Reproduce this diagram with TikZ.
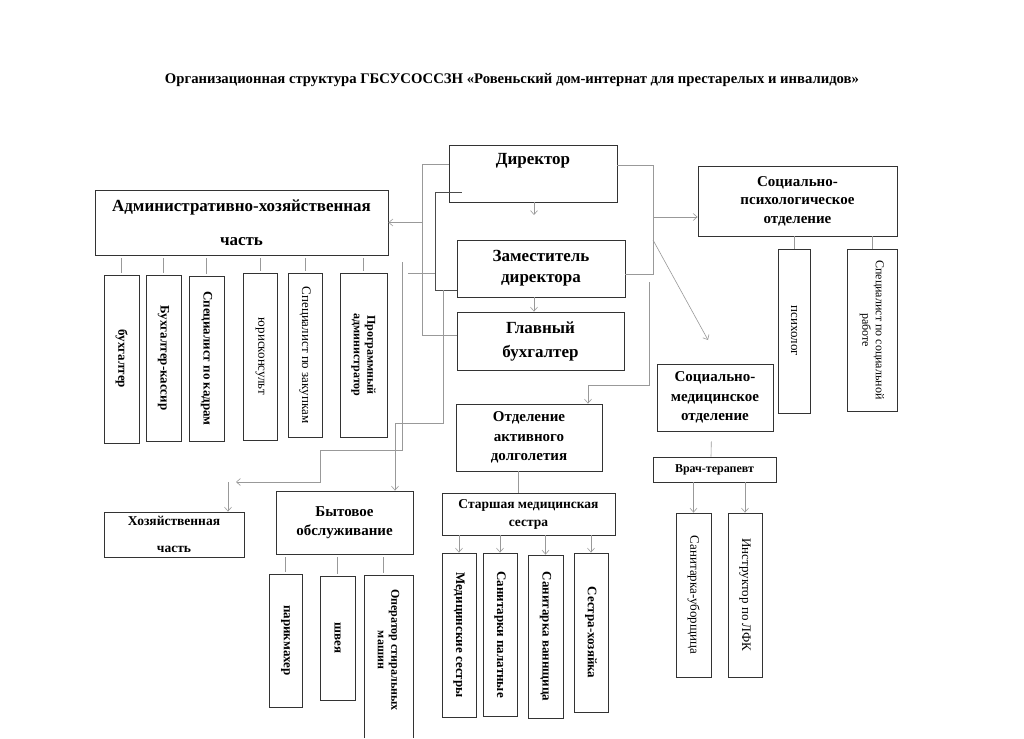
\documentclass[tikz,border=0pt]{standalone}
\usepackage{fontspec}
\setmainfont{Liberation Serif}
\usetikzlibrary{arrows.meta}

\tikzset{
  box/.style={draw=black!80, line width=0.8pt, align=center, inner sep=1pt},
  vtext/.style={rotate=-90, align=center, inner sep=1pt, font=\bfseries\fontsize{13}{14}\selectfont},
  vbox/.style={vtext, draw=black!80, line width=0.8pt},
  vthin/.style={font=\fontsize{13}{14}\selectfont},
  vsmall/.style={font=\bfseries\fontsize{12}{13.5}\selectfont},
  big/.style={font=\bfseries\fontsize{17}{21}\selectfont},
  mid/.style={font=\bfseries\fontsize{15}{19.5}\selectfont},
  small/.style={font=\bfseries\fontsize{13.5}{18}\selectfont},
  link/.style={draw=black!40, line width=0.6pt},
  darklink/.style={draw=black!70, line width=0.9pt}
}

\begin{document}
\begin{tikzpicture}[x=1pt, y=-1pt, >={Straight Barb[length=4pt,width=7pt]}]
\useasboundingbox[fill=white] (0,0) rectangle (1024,738);

\node[font=\bfseries\fontsize{14.7}{18}\selectfont] (title) at (512,80)
  {Организационная структура ГБСУСОССЗН «Ровеньский дом-интернат для престарелых и инвалидов»};

%Management
\node[box, big, minimum width=168pt, minimum height=57pt, text depth=30pt] (dir) at (533,173.5) {Директор};
\node[box, big, minimum width=168pt, minimum height=57pt] (zam) at (541,268.5) {Заместитель\\директора};
\node[box, font=\bfseries\fontsize{17}{24}\selectfont, minimum width=167pt, minimum height=58pt] (glav) at (540.5,341) {Главный\\бухгалтер};

%Departments
\node[box, big, minimum width=293pt, minimum height=65pt] (adm) at (241.5,222.5) {Административно-хозяйственная\\[13pt]часть};
\node[box, font=\bfseries\fontsize{15}{18.5}\selectfont, minimum width=199pt, minimum height=70pt] (psy) at (797.5,201) {Социально-\\психологическое\\отделение};
\node[box, mid, minimum width=116pt, minimum height=67pt] (med) at (715,397.5) {Социально-\\медицинское\\отделение};
\node[box, mid, minimum width=146pt, minimum height=67pt] (akt) at (529,437.5) {Отделение\\активного\\долголетия};
\node[box, font=\bfseries\fontsize{12}{14}\selectfont, minimum width=123pt, minimum height=25pt] (vrach) at (714.5,469.5) {Врач-терапевт};
\node[box, small, minimum width=173pt, minimum height=42pt] (sen) at (528.5,514) {Старшая медицинская\\сестра};
\node[box, small, minimum width=140pt, minimum height=45pt] (khoz) at (174,534.5) {Хозяйственная\\[9pt]часть};
\node[box, mid, minimum width=137pt, minimum height=63pt] (byt) at (344.5,522.5) {Бытовое\\обслуживание};

%Admin staff
\node[vbox, minimum width=168pt, minimum height=35pt] (b1) at (121.5,359) {бухгалтер};
\node[vbox, minimum width=166pt, minimum height=35pt] (b2) at (163.5,358) {Бухгалтер-кассир};
\node[vbox, minimum width=165pt, minimum height=35pt] (b3) at (206.5,358.5) {Специалист по кадрам};
\node[vbox, vthin, minimum width=167pt, minimum height=34pt] (b4) at (260,356.5) {юрисконсульт};
\node[vbox, vthin, minimum width=164pt, minimum height=34pt] (b5) at (305,355) {Специалист по закупкам};
\node[vbox, vsmall, minimum width=164pt, minimum height=47pt] (b6) at (363.5,355) {Программный\\администратор};

%Psychology staff
\node[vbox, vthin, minimum width=164pt, minimum height=32pt] (p1) at (794,331) {психолог};
\node[vbox, font=\fontsize{12}{13.5}\selectfont, minimum width=162pt, minimum height=50pt] (p2) at (872,330) {Специалист по социальной\\работе};

%Medical staff
\node[vbox, vthin, minimum width=164pt, minimum height=35pt] (m1) at (693.5,595) {Санитарка-уборщица};
\node[vbox, vthin, minimum width=164pt, minimum height=34pt] (m2) at (745,595) {Инструктор по ЛФК};

%Nurses
\node[vbox, minimum width=164pt, minimum height=34pt] (n1) at (459,635) {Медицинские сестры};
\node[vbox, minimum width=163pt, minimum height=34pt] (n2) at (500,634.5) {Санитарки палатные};
\node[vbox, minimum width=163pt, minimum height=35pt] (n3) at (545.5,636.5) {Санитарка ваннщица};
\node[vbox, minimum width=159pt, minimum height=34pt] (n4) at (591,632.5) {Сестра-хозяйка};

%Household staff
\node[vbox, minimum width=133pt, minimum height=33pt] (h1) at (285.5,640.5) {парикмахер};
\node[vbox, minimum width=124pt, minimum height=35pt] (h2) at (337.5,638) {швея};
\node[vtext, vsmall] (h3) at (388.5,650) {Оператор стиральных\\машин};
\draw[draw=black!80, line width=0.8pt] (364,738) -- (364,575) -- (413,575) -- (413,738);
\coordinate (h3top) at (383,575);

%Staff links
\foreach \n in {b1,b2,b3,b4,b5,b6}
  \draw[link, shorten <=3pt, shorten >=2pt] (adm.south -| \n.west) -- (\n.west);
\foreach \n in {p1,p2}
  \draw[link] (psy.south -| \n.west) -- (\n.west);
\foreach \n in {h1,h2}
  \draw[link, shorten <=3pt, shorten >=2pt] (byt.south -| \n.west) -- (\n.west);
\draw[link, shorten <=3pt, shorten >=2pt] (byt.south -| h3top) -- (h3top);
\foreach \n in {m1,m2}
  \draw[link,->] (vrach.south -| \n.west) -- (\n.west);
\foreach \n in {n1,n2,n3,n4}
  \draw[link,->] (sen.south -| \n.west) -- (\n.west);
\draw[link, shorten <=10pt] ([xshift=-3.5pt]med.south) -- ([xshift=-3.5pt]vrach.north);
\draw[link] ([xshift=-11pt]akt.south) -- ([xshift=-10.5pt]sen.north);

%Director links
\coordinate (dirend) at (534,215);
\draw[link,->] ([xshift=1pt]dir.south) -- (dirend);
\draw[link,->] ([xshift=-7pt]zam.south) -- ([xshift=-6.5pt]glav.north);

%Left side
\draw[link] ([yshift=9.5pt]dir.west) -- (422,164) -- (422,335) -- ([yshift=6pt]glav.west);
\draw[link,->] (422,222.5) -- (adm.east);
\draw[darklink] ([xshift=13pt,yshift=-18.5pt]dir.west) -- (435,192) -- (435,290) -- ([yshift=-21.5pt]zam.west);
\draw[link] (435,273) -- (408,273);
\draw[link,->] (443,290) -- (443,423) -- (395,423) -- ([xshift=50.5pt]byt.north);
\draw[link,->] (402,262) -- (402,450) -- (320,450) -- (320,482) -- (236,482);
\draw[link,->] (228,482) -- ([xshift=54pt]khoz.north);

%Right side
\coordinate (medend) at (708,340);
\draw[link] ([yshift=8.5pt]dir.east) -- (653,165) -- (653,274) -- ([yshift=-5.5pt]zam.east);
\draw[link,->] (653,217) -- ([yshift=-16pt]psy.west);
\draw[link,->] (653,240) -- (medend);
\draw[link,->] (649,282) -- (649,385) -- (588,385) -- ([xshift=59pt]akt.north);

\end{tikzpicture}
\end{document}
